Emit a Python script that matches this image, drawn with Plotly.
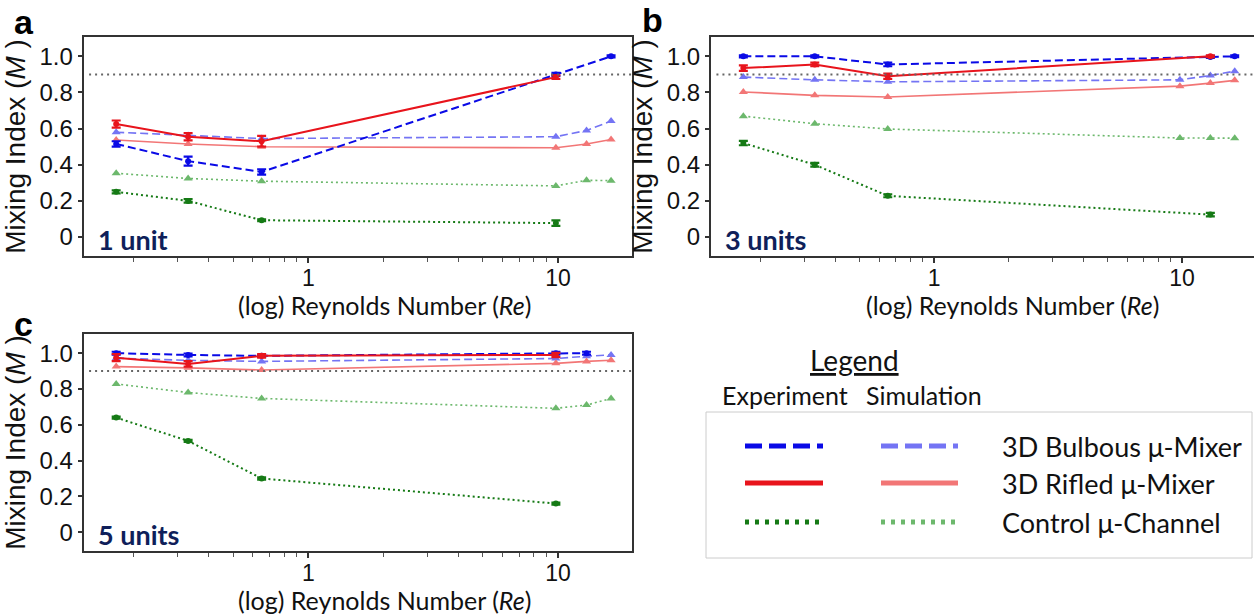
import plotly.graph_objects as go

# ---------------- data ----------------
RE_SIM = [0.17, 0.33, 0.65, 9.8, 13.0, 16.3]

# panel a (1 unit)
a_bulb_x = [0.17, 0.33, 0.65, 9.8, 16.3]
a_bulb_y = [0.515, 0.42, 0.36, 0.90, 1.0]
a_bulb_e = [0.015, 0.025, 0.015, 0.008, 0.006]
a_rifl_x = [0.17, 0.33, 0.65, 9.8]
a_rifl_y = [0.625, 0.555, 0.53, 0.885]
a_rifl_e = [0.02, 0.02, 0.03, 0.01]
a_ctrl_x = [0.17, 0.33, 0.65, 9.8]
a_ctrl_y = [0.25, 0.20, 0.093, 0.077]
a_ctrl_e = [0.008, 0.01, 0.005, 0.015]
a_bulb_sim = [0.58, 0.562, 0.545, 0.555, 0.59, 0.642]
a_rifl_sim = [0.537, 0.515, 0.50, 0.494, 0.515, 0.540]
a_ctrl_sim = [0.353, 0.324, 0.309, 0.283, 0.314, 0.312]

# panel b (3 units)
b_bulb_x = [0.17, 0.33, 0.65, 13.0, 16.3]
b_bulb_y = [1.0, 1.0, 0.955, 0.997, 1.0]
b_bulb_e = [0.006, 0.006, 0.01, 0.005, 0.005]
b_rifl_x = [0.17, 0.33, 0.65, 13.0]
b_rifl_y = [0.935, 0.955, 0.89, 1.0]
b_rifl_e = [0.015, 0.01, 0.015, 0.005]
b_ctrl_x = [0.17, 0.33, 0.65, 13.0]
b_ctrl_y = [0.52, 0.40, 0.228, 0.124]
b_ctrl_e = [0.012, 0.01, 0.008, 0.01]
b_bulb_sim = [0.885, 0.870, 0.859, 0.870, 0.894, 0.918]
b_rifl_sim = [0.803, 0.784, 0.775, 0.835, 0.852, 0.867]
b_ctrl_sim = [0.669, 0.627, 0.598, 0.548, 0.548, 0.547]

# panel c (5 units)
c_bulb_x = [0.17, 0.33, 0.65, 9.8, 13.0]
c_bulb_y = [1.0, 0.99, 0.985, 1.0, 1.0]
c_bulb_e = [0.008, 0.008, 0.006, 0.008, 0.008]
c_rifl_x = [0.17, 0.33, 0.65, 9.8]
c_rifl_y = [0.975, 0.94, 0.985, 0.99]
c_rifl_e = [0.02, 0.015, 0.01, 0.012]
c_ctrl_x = [0.17, 0.33, 0.65, 9.8]
c_ctrl_y = [0.64, 0.51, 0.30, 0.16]
c_ctrl_e = [0.006, 0.006, 0.006, 0.006]
c_bulb_sim = [0.972, 0.96, 0.954, 0.97, 0.983, 0.99]
c_rifl_sim = [0.925, 0.918, 0.906, 0.943, 0.954, 0.96]
c_ctrl_sim = [0.828, 0.78, 0.747, 0.692, 0.71, 0.747]

THRESHOLD = 0.9
Y_TICKS = [0, 0.2, 0.4, 0.6, 0.8, 1.0]
Y_TICKTEXT = ["0", "0.2", "0.4", "0.6", "0.8", "1.0"]
X_TICKS = [1, 10]
X_TICKTEXT = ["1", "10"]
X_MINOR = [0.2, 0.3, 0.4, 0.5, 0.6, 0.7, 0.8, 0.9, 2, 3, 4, 5, 6, 7, 8, 9]
PANEL_LETTERS = ["a", "b", "c"]
UNIT_LABELS = ["1 unit", "3 units", "5 units"]
LEGEND_NAMES = ["3D Bulbous \u03bc-Mixer", "3D Rifled \u03bc-Mixer", "Control \u03bc-Channel"]
X_TITLE = "(log) Reynolds Number (<i>Re</i>)"
Y_TITLE = "Mixing Index (<i>M</i> )"

# ---------------- styles ----------------
C_BLUE = "#0a0ae6"
C_RED = "#e8141c"
C_GREEN = "#157a15"
C_LBLUE = "#7474f4"
C_LRED = "#f27676"
C_LGREEN = "#6cb86c"
DASH_EXP = "8px,4px"
DASH_SIM = "8px,4px"
DOT = "2px,3px"

W, H = 1254, 616


def px_x(p):
    return p / W


def px_y(p):
    return 1 - p / H


fig = go.Figure()

panels = [
    dict(xa="x", ya="y",
         exp=[(a_bulb_x, a_bulb_y, a_bulb_e, C_BLUE, DASH_EXP),
              (a_rifl_x, a_rifl_y, a_rifl_e, C_RED, "solid"),
              (a_ctrl_x, a_ctrl_y, a_ctrl_e, C_GREEN, DOT)],
         sim=[(a_bulb_sim, C_LBLUE, DASH_SIM),
              (a_rifl_sim, C_LRED, "solid"),
              (a_ctrl_sim, C_LGREEN, DOT)]),
    dict(xa="x2", ya="y2",
         exp=[(b_bulb_x, b_bulb_y, b_bulb_e, C_BLUE, DASH_EXP),
              (b_rifl_x, b_rifl_y, b_rifl_e, C_RED, "solid"),
              (b_ctrl_x, b_ctrl_y, b_ctrl_e, C_GREEN, DOT)],
         sim=[(b_bulb_sim, C_LBLUE, DASH_SIM),
              (b_rifl_sim, C_LRED, "solid"),
              (b_ctrl_sim, C_LGREEN, DOT)]),
    dict(xa="x3", ya="y3",
         exp=[(c_bulb_x, c_bulb_y, c_bulb_e, C_BLUE, DASH_EXP),
              (c_rifl_x, c_rifl_y, c_rifl_e, C_RED, "solid"),
              (c_ctrl_x, c_ctrl_y, c_ctrl_e, C_GREEN, DOT)],
         sim=[(c_bulb_sim, C_LBLUE, DASH_SIM),
              (c_rifl_sim, C_LRED, "solid"),
              (c_ctrl_sim, C_LGREEN, DOT)]),
]

for p in panels:
    for ys, col, dash in p["sim"]:
        fig.add_trace(go.Scatter(
            x=RE_SIM, y=ys, xaxis=p["xa"], yaxis=p["ya"], mode="lines+markers",
            line=dict(color=col, width=1.6, dash=dash),
            marker=dict(symbol="triangle-up", size=8, color=col),
            showlegend=False, hoverinfo="x+y"))
    for xs, ys, es, col, dash in p["exp"]:
        fig.add_trace(go.Scatter(
            x=xs, y=ys, xaxis=p["xa"], yaxis=p["ya"], mode="lines+markers",
            line=dict(color=col, width=2, dash=dash),
            marker=dict(symbol="circle", size=6, color=col),
            error_y=dict(type="data", array=es, visible=True, color=col,
                         thickness=2.2, width=4.5),
            showlegend=False, hoverinfo="x+y"))

# ---------------- axes ----------------
ytick_font = dict(family="Liberation Sans, Arial", size=24, color="#111")
xtick_font = dict(family="Liberation Sans, Arial", size=23, color="#111")
ytitle_font = dict(family="Liberation Sans, Arial", size=28, color="#111")
xtitle_font = dict(family="Lato, Open Sans", size=25, color="#111")

# (x0, x1, y_top, y_bottom) in pixels
boxes = [(83.6, 632, 37, 256), (711, W, 37, 256), (83.6, 632, 334, 551)]
xranges = [[-0.9, 1.296], [-0.9, 1.29], [-0.9, 1.296]]
xtitle_offsets = [49, 49, 49]

layout = dict(
    width=W, height=H, margin=dict(l=0, r=0, t=0, b=0),
    paper_bgcolor="white", plot_bgcolor="white", showlegend=False,
)
for i, (bx0, bx1, by0, by1) in enumerate(boxes):
    sfx = "" if i == 0 else str(i + 1)
    layout["xaxis" + sfx] = dict(
        type="log", domain=[px_x(bx0), px_x(bx1)], range=xranges[i], anchor="y" + sfx,
        tickvals=X_TICKS, ticktext=X_TICKTEXT, tickfont=xtick_font,
        ticks="outside", ticklen=5, tickwidth=1.5, tickcolor="#333",
        ticklabelstandoff=-5,
        minor=dict(tickvals=X_MINOR, ticks="outside", ticklen=4, tickwidth=1, tickcolor="#555"),
        showgrid=False, zeroline=False, showline=True, linecolor="#333", linewidth=2,
        mirror=True,
    )
    layout["yaxis" + sfx] = dict(
        domain=[px_y(by1), px_y(by0)], range=[-0.105, 1.107], anchor="x" + sfx,
        tickvals=Y_TICKS, ticktext=Y_TICKTEXT, tickfont=ytick_font,
        ticks="outside", ticklen=4, tickwidth=1.5, tickcolor="#333",
        showgrid=False, zeroline=False, showline=True, linecolor="#333", linewidth=2,
        mirror=(i != 1),
        title=dict(text=Y_TITLE, font=ytitle_font, standoff=6),
    )
fig.update_layout(**layout)

shapes = []
annotations = []
for i, (bx0, bx1, by0, by1) in enumerate(boxes):
    sfx = "" if i == 0 else str(i + 1)
    shapes.append(dict(type="line", xref="x" + sfx + " domain", yref="y" + sfx,
                       x0=0.01, x1=1, y0=THRESHOLD, y1=THRESHOLD,
                       line=dict(color="#666", width=2, dash="2px,4px")))
    annotations.append(dict(xref="x" + sfx + " domain", yref="y" + sfx + " domain",
                            x=0.022, y=0.075, xanchor="left", yanchor="middle",
                            text="<b>" + UNIT_LABELS[i] + "</b>", showarrow=False,
                            font=dict(family="Lato, Open Sans", size=27, color="#0f1f5a")))
    # x-axis title, centred under the log axis like the reference
    annotations.append(dict(xref="paper", yref="paper",
                            x=px_x(bx0 + 301), y=px_y(by1 + xtitle_offsets[i]),
                            xanchor="center", yanchor="middle", showarrow=False,
                            text=X_TITLE, font=xtitle_font))

# panel letters
for letter, (lx, ly) in zip(PANEL_LETTERS, [(12, 22), (640, 20), (12, 324)]):
    annotations.append(dict(xref="paper", yref="paper", x=px_x(lx), y=px_y(ly),
                            xanchor="left", yanchor="middle", showarrow=False,
                            text="<b>" + letter + "</b>",
                            font=dict(family="Liberation Sans, Arial", size=34, color="black")))

# legend block
leg_font = dict(family="Lato, Open Sans", size=27, color="#111")
annotations.append(dict(xref="paper", yref="paper", x=px_x(855), y=px_y(360),
                        xanchor="center", yanchor="middle", showarrow=False,
                        text="<u>Legend</u>", font=dict(family="Lato, Open Sans", size=28, color="#111")))
annotations.append(dict(xref="paper", yref="paper", x=px_x(785), y=px_y(395),
                        xanchor="center", yanchor="middle", showarrow=False,
                        text="Experiment", font=dict(family="Lato, Open Sans", size=25, color="#111")))
annotations.append(dict(xref="paper", yref="paper", x=px_x(924), y=px_y(395),
                        xanchor="center", yanchor="middle", showarrow=False,
                        text="Simulation", font=dict(family="Lato, Open Sans", size=25, color="#111")))
shapes.append(dict(type="rect", xref="paper", yref="paper",
                   x0=px_x(706), x1=px_x(1252), y0=px_y(558), y1=px_y(412),
                   line=dict(color="#cccccc", width=1), fillcolor="rgba(0,0,0,0)"))
leg_rows = [
    (446, C_BLUE, C_LBLUE, "17px,7px"),
    (483, C_RED, C_LRED, "solid"),
    (522, C_GREEN, C_LGREEN, "4px,6px"),
]
for (yy, ce, cs, dash), name in zip(leg_rows, LEGEND_NAMES):
    shapes.append(dict(type="line", xref="paper", yref="paper",
                       x0=px_x(745), x1=px_x(823), y0=px_y(yy), y1=px_y(yy),
                       line=dict(color=ce, width=5, dash=dash)))
    shapes.append(dict(type="line", xref="paper", yref="paper",
                       x0=px_x(881), x1=px_x(958), y0=px_y(yy), y1=px_y(yy),
                       line=dict(color=cs, width=5, dash=dash)))
    annotations.append(dict(xref="paper", yref="paper", x=px_x(1000), y=px_y(yy),
                            xanchor="left", yanchor="middle", showarrow=False,
                            text=name, font=leg_font))

fig.update_layout(shapes=shapes, annotations=annotations)
fig.write_html("out.html")
